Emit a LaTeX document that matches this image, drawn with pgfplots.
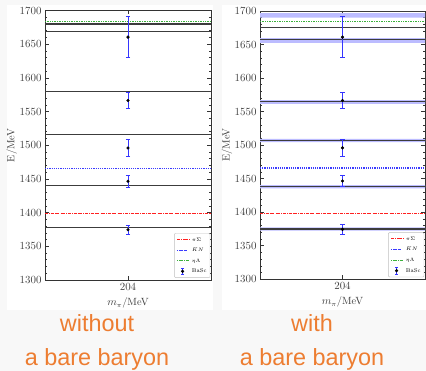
\documentclass[border=0pt]{standalone}
\usepackage{pgfplots}
\pgfplotsset{compat=1.18}
\usetikzlibrary{decorations.markings}
\usepackage{fontspec}
\newfontfamily\arialf{Liberation Sans}
\definecolor{bgc}{HTML}{F8F8F8}
\definecolor{orangec}{HTML}{ED7D31}
\definecolor{linec}{HTML}{3C3C3C}
\definecolor{psred}{HTML}{FF2020}
\definecolor{knblue}{HTML}{3A3AFF}
\definecolor{elgreen}{HTML}{3CB03C}
\definecolor{ebblue}{HTML}{3535FF}
\definecolor{bandc}{HTML}{BCBCFF}

\pgfplotsset{
  panel/.style={
    scale only axis, anchor=south west,
    xmin=203, xmax=205, ymin=1300, ymax=1700,
    xtick={204}, ytick={1300,1350,...,1700},
    minor y tick num=4,
    /pgf/number format/1000 sep={},
    tick align=inside,
    major tick length=4bp, minor tick length=2bp,
    every tick/.style={black!80, line width=0.6pt},
    axis line style={black!80, line width=0.8pt},
    tick label style={font=\fontsize{10.5}{12}\selectfont, text=black!75},
    label style={font=\fontsize{10.5}{12}\selectfont, text=black!75},
    ylabel={E/MeV}, xlabel={$m_\pi$/MeV},
    ylabel style={at={(axis description cs:-0.2,0.5)}, anchor=center},
    xlabel style={at={(axis description cs:0.5,-0.085)}, anchor=center},
    legend style={at={(rel axis cs:0.995,0.008)}, anchor=south east,
      font=\fontsize{5.5}{6.5}\selectfont, draw=black!25, rounded corners=1pt,
      inner sep=2pt, row sep=2bp, cells={anchor=west},
      nodes={text height=4.5bp, text depth=1.5bp, inner sep=1.3bp}},
    legend cell align=left,
  },
  hline/.style={color=linec, line width=1.2pt, forget plot},
  band/.style={fill=bandc, draw=none, forget plot},
  pisig/.style={draw=none, postaction={decorate},
    decoration={markings, mark=between positions 0 and 1 step 5.7bp with
      {\draw[psred, line width=1pt] (0bp,0bp) -- (3bp,0bp) (4.2bp,0bp) -- (5bp,0bp);}},
    legend image code/.code={\draw[psred, line width=1pt] (0bp,0bp) -- (3bp,0bp) (4.2bp,0bp) -- (5bp,0bp)
      (6.2bp,0bp) -- (9.2bp,0bp) (10.4bp,0bp) -- (11.2bp,0bp);}},
  kn/.style={draw=none, postaction={decorate},
    decoration={markings, mark=between positions 0 and 1 step 2.2bp with
      {\draw[knblue, line width=1.3pt] (0bp,0bp) -- (1.1bp,0bp);}},
    legend image code/.code={\draw[knblue, line width=1.3pt] (0bp,0bp) -- (1.1bp,0bp)
      (2.2bp,0bp) -- (3.3bp,0bp) (4.4bp,0bp) -- (5.5bp,0bp) (6.6bp,0bp) -- (7.7bp,0bp)
      (8.8bp,0bp) -- (9.9bp,0bp);}},
  eta/.style={draw=none, postaction={decorate},
    decoration={markings, mark=between positions 0 and 1 step 1.7bp with
      {\draw[elgreen, line width=0.9pt] (0bp,0bp) -- (0.8bp,0bp);}},
    legend image code/.code={\draw[elgreen, line width=0.9pt] (0bp,0bp) -- (0.8bp,0bp)
      (1.7bp,0bp) -- (2.5bp,0bp) (3.4bp,0bp) -- (4.2bp,0bp) (5.1bp,0bp) -- (5.9bp,0bp)
      (6.8bp,0bp) -- (7.6bp,0bp) (8.5bp,0bp) -- (9.3bp,0bp) (10.2bp,0bp) -- (11bp,0bp);}},
  basc/.style={only marks, mark=*, mark size=1.4bp, black,
    error bars/y dir=both, error bars/y explicit,
    error bars/error bar style={ebblue, line width=0.8pt},
    error bars/error mark options={ebblue, rotate=90, mark size=2.2bp, line width=0.8pt},
    legend image code/.code={
    \draw[ebblue, line width=0.8pt] (5.5bp,-3.2bp) -- (5.5bp,3.2bp);
    \draw[ebblue, line width=0.6pt] (4bp,-3.2bp) -- (7bp,-3.2bp) (4bp,3.2bp) -- (7bp,3.2bp);
    \fill[black] (5.5bp,0bp) circle (1.4bp);}},
}

\begin{document}
\begin{tikzpicture}
\path[use as bounding box] (0,0) rectangle (426bp,371bp);
\fill[bgc] (0,0) rectangle (426bp,371bp);
\fill[white] (7bp,61bp) rectangle (213bp,366bp);
\fill[white] (222bp,61bp) rectangle (426bp,366bp);

% ---------- left panel: without a bare baryon ----------
\begin{axis}[panel, at={(45bp,91bp)}, width=166bp, height=269.5bp]
\addplot[hline] coordinates {(203,1680) (205,1680)};
\addplot[hline] coordinates {(203,1669) (205,1669)};
\addplot[hline] coordinates {(203,1579.5) (205,1579.5)};
\addplot[hline] coordinates {(203,1516) (205,1516)};
\addplot[hline] coordinates {(203,1440.5) (205,1440.5)};
\addplot[hline] coordinates {(203,1378) (205,1378)};
\addplot[pisig] coordinates {(203,1398) (205,1398)};
\addlegendentry{$\pi\Sigma$}
\addplot[kn] coordinates {(203,1466) (205,1466)};
\addlegendentry{$\bar{K}N$}
\addplot[eta] coordinates {(203,1684) (205,1684)};
\addlegendentry{$\eta\Lambda$}
\addplot[basc] coordinates {
  (204,1660.5) +- (0,30.5)
  (204,1566.5) +- (0,11.5)
  (204,1496) +- (0,12.5)
  (204,1446.5) +- (0,8.5)
  (204,1374.5) +- (0,7)
};
\addlegendentry{BaSc}
\end{axis}

% ---------- right panel: with a bare baryon ----------
\begin{axis}[panel, at={(260bp,91.7bp)}, width=165bp, height=268.3bp]
\addplot[band] coordinates {(203,1690) (205,1690) (205,1697) (203,1697) (203,1690)};
\addplot[band] coordinates {(203,1652.5) (205,1652.5) (205,1659.5) (203,1659.5) (203,1652.5)};
\addplot[band] coordinates {(203,1561.5) (205,1561.5) (205,1567) (203,1567) (203,1561.5)};
\addplot[band] coordinates {(203,1504.5) (205,1504.5) (205,1509.5) (203,1509.5) (203,1504.5)};
\addplot[band] coordinates {(203,1435.5) (205,1435.5) (205,1440.5) (203,1440.5) (203,1435.5)};
\addplot[band] coordinates {(203,1372.5) (205,1372.5) (205,1377.5) (203,1377.5) (203,1372.5)};
\addplot[hline] coordinates {(203,1699) (205,1699)};
\addplot[hline] coordinates {(203,1675.5) (205,1675.5)};
\addplot[hline] coordinates {(203,1657) (205,1657)};
\addplot[hline] coordinates {(203,1564.5) (205,1564.5)};
\addplot[hline] coordinates {(203,1507) (205,1507)};
\addplot[hline] coordinates {(203,1438) (205,1438)};
\addplot[hline] coordinates {(203,1375) (205,1375)};
\addplot[pisig] coordinates {(203,1398) (205,1398)};
\addlegendentry{$\pi\Sigma$}
\addplot[kn] coordinates {(203,1466) (205,1466)};
\addlegendentry{$\bar{K}N$}
\addplot[eta] coordinates {(203,1685) (205,1685)};
\addlegendentry{$\eta\Lambda$}
\addplot[basc] coordinates {
  (204,1661) +- (0,30.5)
  (204,1566.5) +- (0,11.5)
  (204,1496) +- (0,12.5)
  (204,1446.5) +- (0,8.5)
  (204,1374.5) +- (0,7)
};
\addlegendentry{BaSc}
\end{axis}

% ---------- captions ----------
\node[anchor=base, text=orangec, font=\arialf\fontsize{23.5}{28}\selectfont] at (97bp,39.5bp) {without};
\node[anchor=base, text=orangec, font=\arialf\fontsize{23.5}{28}\selectfont] at (97bp,5.5bp) {a bare baryon};
\node[anchor=base, text=orangec, font=\arialf\fontsize{23.5}{28}\selectfont] at (312bp,39.5bp) {with};
\node[anchor=base, text=orangec, font=\arialf\fontsize{23.5}{28}\selectfont] at (312bp,5.5bp) {a bare baryon};
\end{tikzpicture}
\end{document}
